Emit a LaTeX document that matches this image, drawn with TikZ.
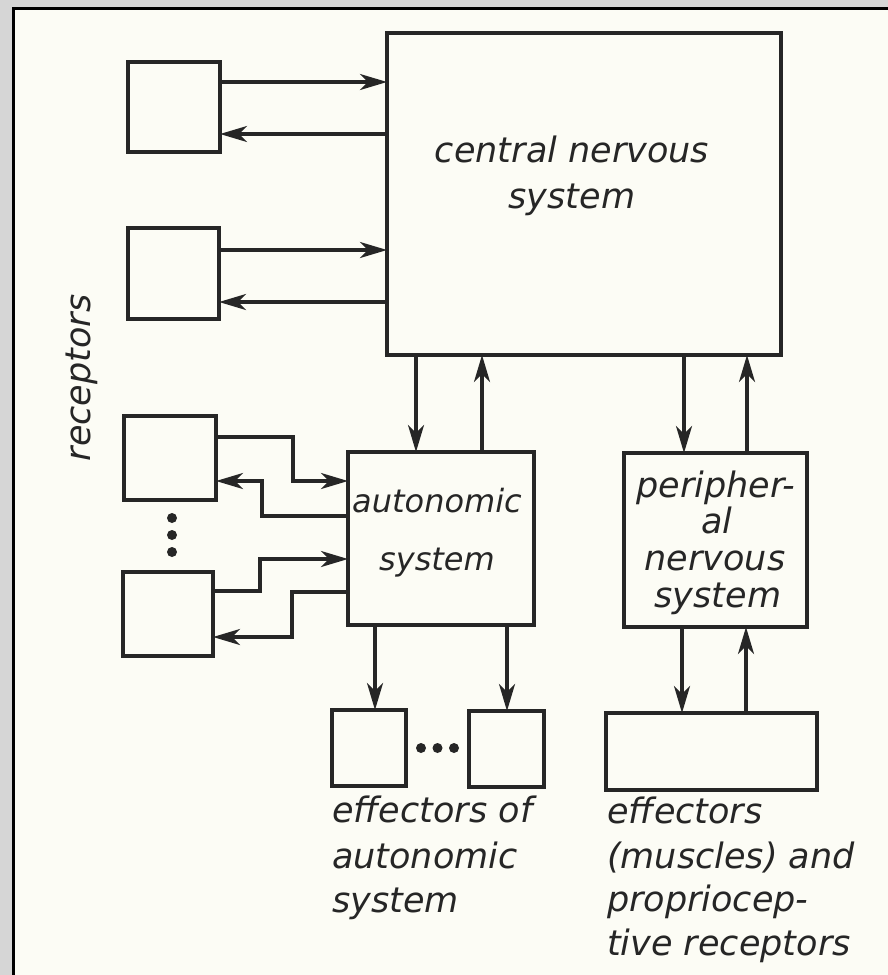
\documentclass[tikz,border=0pt]{standalone}
\usepackage{fontspec}
\setmainfont{DejaVu Sans}
\usetikzlibrary{arrows.meta}
\definecolor{ink}{HTML}{262626}
\definecolor{paper}{HTML}{FCFCF5}
\definecolor{scan}{HTML}{D6D6D6}
\begin{document}
\begin{tikzpicture}[x=1pt,y=-1pt,
  box/.style={draw=ink,line width=4pt,inner sep=0pt,outer sep=0pt},
  arr/.style={draw=ink,line width=3.2pt,-{Stealth[length=27pt,width=16pt,inset=8pt]}},
  lbl/.style={text=ink,font=\fontsize{35}{42}\selectfont\itshape,inner sep=0pt,anchor=base west},
  clbl/.style={lbl,anchor=base},
  dotm/.style={circle,fill=ink,inner sep=0pt,minimum size=10pt}]
\useasboundingbox (0,0) rectangle (888,975);
% scan margin and frame
\fill[scan] (0,0) rectangle (888,975);
\fill[paper] (13,8) rectangle (888,975);
\draw[black,line width=3.5pt] (13.5,975) -- (13.5,8.5) -- (888,8.5);

% boxes
\node[box,minimum width=394pt,minimum height=322pt] (cns) at (584,194) {};
\node[box,minimum width=92pt,minimum height=90pt] (r1) at (174,107) {};
\node[box,minimum width=91pt,minimum height=91pt] (r2) at (173.5,273.5) {};
\node[box,minimum width=92pt,minimum height=84pt] (r3) at (170,458) {};
\node[box,minimum width=90pt,minimum height=84pt] (r4) at (168,614) {};
\node[box,minimum width=186pt,minimum height=173pt] (auto) at (441,538.5) {};
\node[box,minimum width=183pt,minimum height=174pt] (per) at (715.5,540) {};
\node[box,minimum width=74pt,minimum height=76pt] (e1) at (369,748) {};
\node[box,minimum width=75pt,minimum height=76pt] (e2) at (506.5,749) {};
\node[box,minimum width=211pt,minimum height=77pt] (e3) at (711.5,751.5) {};

% dots
\node[dotm] (d1) at (172,518) {};
\node[dotm] (d2) at (172,535) {};
\node[dotm] (d3) at (172,552) {};
\node[dotm] (f1) at (421,748) {};
\node[dotm] (f2) at (437.5,748) {};
\node[dotm] (f3) at (454,748) {};

% receptors <-> CNS
\draw[arr] (r1.east |- 0,82) -- (cns.west |- 0,82);
\draw[arr] (cns.west |- 0,134) -- (r1.east |- 0,134);
\draw[arr] (r2.east |- 0,250) -- (cns.west |- 0,250);
\draw[arr] (cns.west |- 0,302) -- (r2.east |- 0,302);

% receptors <-> autonomic
\draw[arr] (r3.east |- 0,437) -- (293,437) -- (293,481) -- (auto.west |- 0,481);
\draw[arr] (auto.west |- 0,516) -- (262,516) -- (262,481) -- (r3.east |- 0,481);
\draw[arr] (r4.east |- 0,591) -- (260,591) -- (260,559) -- (auto.west |- 0,559);
\draw[arr] (auto.west |- 0,592) -- (292,592) -- (292,637) -- (r4.east |- 0,637);

% CNS <-> autonomic / peripheral
\draw[arr] (cns.south -| 416,0) -- (auto.north -| 416,0);
\draw[arr] (auto.north -| 482,0) -- (cns.south -| 482,0);
\draw[arr] (cns.south -| 684,0) -- (per.north -| 684,0);
\draw[arr] (per.north -| 747,0) -- (cns.south -| 747,0);

% autonomic -> effectors, peripheral <-> effectors
\draw[arr] (auto.south -| 375,0) -- (e1.north -| 375,0);
\draw[arr] (auto.south -| 507,0) -- (e2.north -| 507,0);
\draw[arr] (per.south -| 682,0) -- (e3.north -| 682,0);
\draw[arr] (e3.north -| 746,0) -- (per.south -| 746,0);

% texts
\node[clbl] (t1) at (572,162) {central nervous};
\node[clbl] (t2) at (572,208) {system};
\node[clbl,font=\fontsize{32}{40}\selectfont\itshape] (t3) at (437,512) {autonomic};
\node[clbl,font=\fontsize{32}{40}\selectfont\itshape] (t4) at (437,570) {system};
\node[clbl] (t5) at (716,497) {peripher-};
\node[clbl] (t6) at (717,533) {al};
\node[clbl] (t7) at (715,570) {nervous};
\node[clbl] (t8) at (718,607) {system};
\node[lbl] (t9) at (332,822) {effectors of};
\node[lbl] (t10) at (332,868) {autonomic};
\node[lbl] (t11) at (332,912) {system};
\node[lbl] (t12) at (607,823) {effectors};
\node[lbl] (t13) at (607,868) {(muscles) and};
\node[lbl] (t14) at (607,911) {propriocep-};
\node[lbl] (t15) at (607,955) {tive receptors};
\node[text=ink,font=\fontsize{35}{42}\selectfont\itshape,inner sep=0pt,rotate=90] (rec) at (82,378) {receptors};
\end{tikzpicture}
\end{document}
